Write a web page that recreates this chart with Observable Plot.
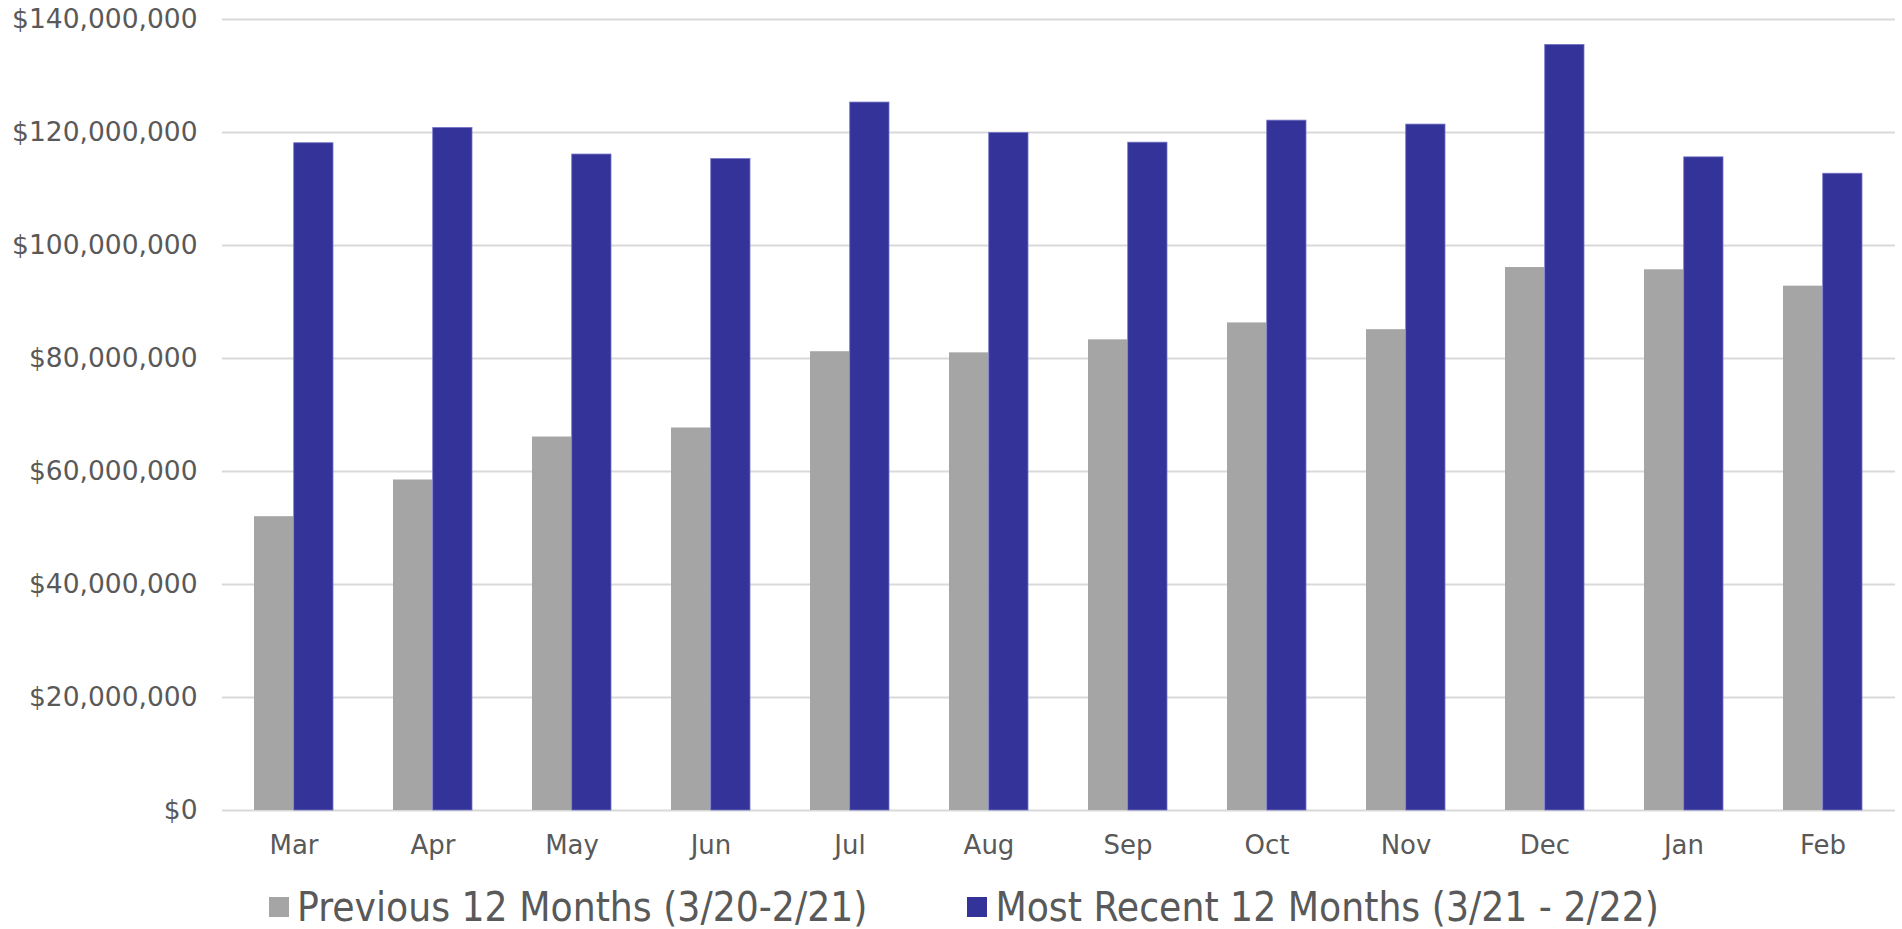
<!DOCTYPE html>
<html>
<head>
<meta charset="utf-8">
<script src="https://cdn.jsdelivr.net/npm/d3@7"></script>
<script src="https://cdn.jsdelivr.net/npm/@observablehq/plot@0.6"></script>
<style>
  html, body { margin: 0; padding: 0; background: #fff; }
  #chart svg { display: block; }
  .legend {
    display: flex; align-items: center; height: 54px;
    margin-left: 269px; font-family: "DejaVu Sans Condensed", "DejaVu Sans", sans-serif;
    font-size: 40.3px; color: #595959; white-space: nowrap;
  }
  .item { display: flex; align-items: center; }
  .item + .item { margin-left: 100px; }
  .sw { width: 20px; height: 20px; margin-right: 8px; }
</style>
</head>
<body>
<div id="chart"></div>
<div class="legend">
  <div class="item"><span class="sw" style="background:#a5a5a5"></span><span id="l1"></span></div>
  <div class="item"><span class="sw" style="background:#333399"></span><span id="l2"></span></div>
</div>
<script>
const months = ["Mar","Apr","May","Jun","Jul","Aug","Sep","Oct","Nov","Dec","Jan","Feb"];
const previous = [52.0, 58.5, 66.1, 67.7, 81.2, 81.0, 83.3, 86.3, 85.1, 96.1, 95.7, 92.8].map(v => v * 1e6);
const recent = [118.1, 120.8, 116.1, 115.3, 125.3, 119.9, 118.2, 122.1, 121.4, 135.5, 115.6, 112.7].map(v => v * 1e6);
const yTicks = [0, 20e6, 40e6, 60e6, 80e6, 100e6, 120e6, 140e6];
const seriesNames = ["Previous 12 Months (3/20-2/21)", "Most Recent 12 Months (3/21 - 2/22)"];
const seriesColors = ["#a5a5a5", "#333399"];

document.getElementById("l1").textContent = seriesNames[0];
document.getElementById("l2").textContent = seriesNames[1];

const W = 1902, H = 880, ML = 222, MR = 7, MT = 19, MB = 70;
const pIn = 0.43, pOut = 0.215;
const step = (W - ML - MR) / (months.length - pIn + 2 * pOut);
const half = step * (1 - pIn) / 2;

const prevData = months.map((m, i) => ({month: m, value: previous[i]}));
const recData = months.map((m, i) => ({month: m, value: recent[i]}));

const fmt = v => "$" + d3.format(",")(v);

const chart = Plot.plot({
  width: W, height: H,
  marginLeft: ML, marginRight: MR, marginTop: MT, marginBottom: MB,
  style: {fontFamily: "'DejaVu Sans', sans-serif", fontSize: "26px", color: "#595959", background: "#fff"},
  x: {domain: months, paddingInner: pIn, paddingOuter: pOut, label: null, tickSize: 0, tickPadding: 25},
  y: {domain: [0, 140e6], ticks: yTicks, tickFormat: fmt, label: null, tickSize: 0, tickPadding: 25},
  marks: [
    Plot.ruleY(yTicks, {stroke: "#d9d9d9", strokeWidth: 2}),
    Plot.barY(prevData, {x: "month", y: "value", fill: seriesColors[0], insetRight: half}),
    Plot.barY(recData, {x: "month", y: "value", fill: seriesColors[1], stroke: "#7373c6", strokeWidth: 0.8, insetLeft: half})
  ]
});
// y tick labels size
d3.select(chart).selectAll("text")
  .filter(function() { return this.textContent.startsWith("$"); })
  .style("font-size", "26.5px");
document.getElementById("chart").appendChild(chart);
</script>
</body>
</html>
